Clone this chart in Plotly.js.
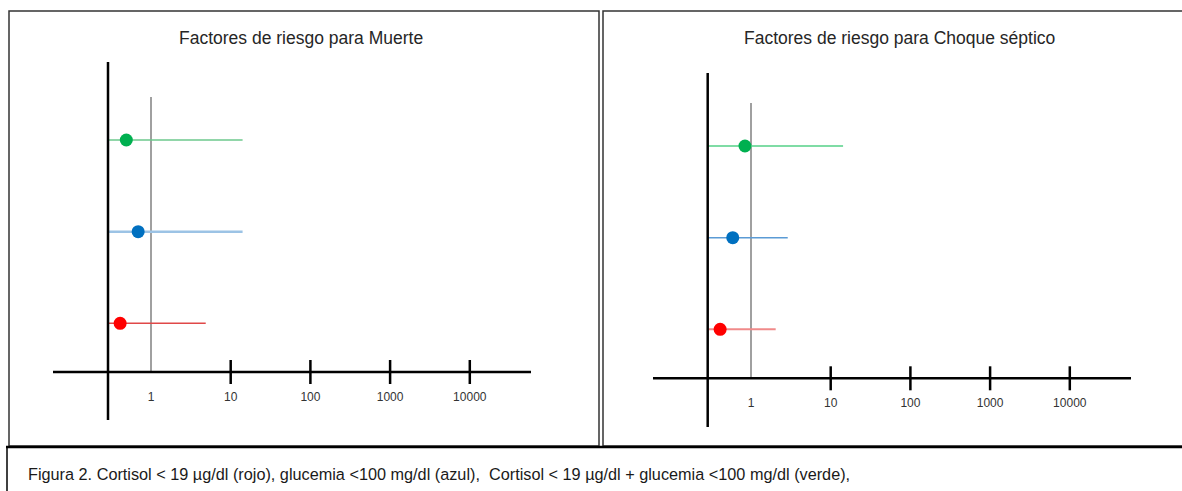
<!DOCTYPE html>
<html>
<head>
<meta charset="utf-8">
<script src="https://cdn.plot.ly/plotly-3.0.1.min.js"></script>
<style>
  html, body { margin: 0; padding: 0; background: #ffffff; }
  #chart { width: 1182px; height: 491px; }
</style>
</head>
<body>
<div id="chart"></div>
<script>
// ---------------- data ----------------
const panelTitles = ['Factores de riesgo para Muerte', 'Factores de riesgo para Choque séptico'];
const factors = ['Cortisol < 19 µg/dl', 'Glucemia <100 mg/dl', 'Cortisol < 19 µg/dl + glucemia <100 mg/dl'];
const rowPos = [1, 2, 3];
const muerteOR   = [0.41, 0.69, 0.49];
const muerteLow  = [0.29, 0.29, 0.29];
const muerteHigh = [4.86, 14.1, 14.1];
const choqueOR   = [0.41, 0.59, 0.84];
const choqueLow  = [0.29, 0.29, 0.29];
const choqueHigh = [2.04, 2.89, 14.3];
const tickVals = [1, 10, 100, 1000, 10000];
const tickText = ['1', '10', '100', '1000', '10000'];
const majorTicks = [10, 100, 1000, 10000];
const caption = 'Figura 2. Cortisol < 19 µg/dl (rojo), glucemia <100 mg/dl (azul),  Cortisol < 19 µg/dl + glucemia <100 mg/dl (verde),';

// ---------------- styles / layout geometry ----------------
const W = 1182, H = 491;
const FONT = '"Liberation Sans", Arial, sans-serif';
const markerColors = ['#ff0000', '#0070c0', '#00b050'];
const barColorsL = ['#e04848', '#9cc3e5', '#6cc98c'];
const barThickL = [1.5, 2.5, 1.5];
const barColorsR = ['#f08a8a', '#5b9bd5', '#7fdca5'];
const barThickR = [2, 1.5, 2];
const PXDEC = 79.7;
const ROWSP = 91.65;

const px = v => v / W;
const py = v => 1 - v / H;

// panel geometry (pixels)
const P = [
  { one: 151, rowRed: 323.3, axY: 372, axX: 108, axTop: 62, axBot: 420, hL: 53, hR: 531, grayTop: 97, d0: 20, d1: 585 },
  { one: 751, rowRed: 329.3, axY: 378.3, axX: 707.7, axTop: 73, axBot: 427, hL: 653, hR: 1131, grayTop: 103, d0: 615, d1: 1178 }
];

const traces = [];
const datasets = [[muerteOR, muerteLow, muerteHigh], [choqueOR, choqueLow, choqueHigh]];
const shapes = [];
const annotations = [];
const layout = {
  width: W, height: H,
  margin: { l: 0, r: 0, t: 0, b: 0, pad: 0 },
  paper_bgcolor: '#ffffff', plot_bgcolor: 'rgba(0,0,0,0)',
  showlegend: false,
  font: { family: FONT, color: '#333333' }
};

P.forEach((g, k) => {
  const xa = k === 0 ? 'x' : 'x2';
  const ya = k === 0 ? 'y' : 'y2';
  const xaKey = k === 0 ? 'xaxis' : 'xaxis2';
  const yaKey = k === 0 ? 'yaxis' : 'yaxis2';
  const yv = p => 1 + (g.rowRed - p) / ROWSP;
  layout[xaKey] = {
    type: 'log',
    domain: [px(g.d0), px(g.d1)],
    range: [(g.d0 - g.one) / PXDEC, (g.d1 - g.one) / PXDEC],
    anchor: 'free', position: py(g.axY),
    showgrid: false, zeroline: false, showline: false,
    tickmode: 'array', tickvals: tickVals, ticktext: tickText,
    ticks: '', ticklabelstandoff: 16,
    tickfont: { family: FONT, size: 12, color: '#333333' },
    fixedrange: true
  };
  layout[yaKey] = {
    domain: [py(460), py(20)],
    range: [yv(460), yv(20)],
    anchor: xa, visible: false, fixedrange: true
  };
  const [orv, lo, hi] = datasets[k];
  rowPos.forEach((r, i) => {
    traces.push({
      type: 'scatter', mode: 'markers',
      x: [orv[i]], y: [r], xaxis: xa, yaxis: ya,
      name: factors[i],
      marker: { color: markerColors[i], size: 13 },
      error_x: {
        type: 'data', symmetric: false,
        array: [hi[i] - orv[i]], arrayminus: [orv[i] - lo[i]],
        color: k === 0 ? barColorsL[i] : barColorsR[i],
        thickness: k === 0 ? barThickL[i] : barThickR[i],
        width: 0
      },
      cliponaxis: false, hoverinfo: 'skip'
    });
  });
  // reference line at 1
  shapes.push({ type: 'line', xref: xa, yref: 'paper', x0: 1, x1: 1, y0: py(g.grayTop), y1: py(g.axY),
    line: { color: '#808080', width: 1.5 }, layer: 'below' });
  // horizontal axis
  shapes.push({ type: 'line', xref: 'paper', yref: 'paper', x0: px(g.hL), x1: px(g.hR), y0: py(g.axY), y1: py(g.axY),
    line: { color: '#000000', width: 2.5 }, layer: 'above' });
  // vertical axis
  shapes.push({ type: 'line', xref: 'paper', yref: 'paper', x0: px(g.axX), x1: px(g.axX), y0: py(g.axTop), y1: py(g.axBot),
    line: { color: '#000000', width: 2.5 }, layer: 'above' });
  // cross ticks
  majorTicks.forEach(t => {
    shapes.push({ type: 'line', xref: xa, yref: 'paper', x0: t, x1: t, y0: py(g.axY - 12), y1: py(g.axY + 12),
      line: { color: '#000000', width: 2.5 }, layer: 'above' });
  });
  annotations.push({ xref: 'paper', yref: 'paper', x: px(k === 0 ? 301 : 899), y: py(38),
    text: panelTitles[k], showarrow: false, xanchor: 'center', yanchor: 'middle',
    font: { family: FONT, size: 17.5, color: '#262626' } });
});

// panel borders
shapes.push({ type: 'rect', xref: 'paper', yref: 'paper', x0: px(9), x1: px(599), y0: py(446), y1: py(11),
  line: { color: '#333333', width: 1.5 }, layer: 'below' });
shapes.push({ type: 'rect', xref: 'paper', yref: 'paper', x0: px(603), x1: px(1190), y0: py(446), y1: py(11),
  line: { color: '#333333', width: 1.5 }, layer: 'below' });
// caption box
shapes.push({ type: 'line', xref: 'paper', yref: 'paper', x0: px(6), x1: px(1190), y0: py(447), y1: py(447),
  line: { color: '#000000', width: 2.5 }, layer: 'above' });
shapes.push({ type: 'line', xref: 'paper', yref: 'paper', x0: px(7), x1: px(7), y0: py(447), y1: py(495),
  line: { color: '#000000', width: 1.5 }, layer: 'above' });
annotations.push({ xref: 'paper', yref: 'paper', x: px(26), y: py(474),
  text: caption, showarrow: false, xanchor: 'left', yanchor: 'middle',
  font: { family: FONT, size: 16.25, color: '#1a1a1a' } });

layout.shapes = shapes;
layout.annotations = annotations;

Plotly.newPlot('chart', traces, layout, { displayModeBar: false, staticPlot: true });
</script>
</body>
</html>
